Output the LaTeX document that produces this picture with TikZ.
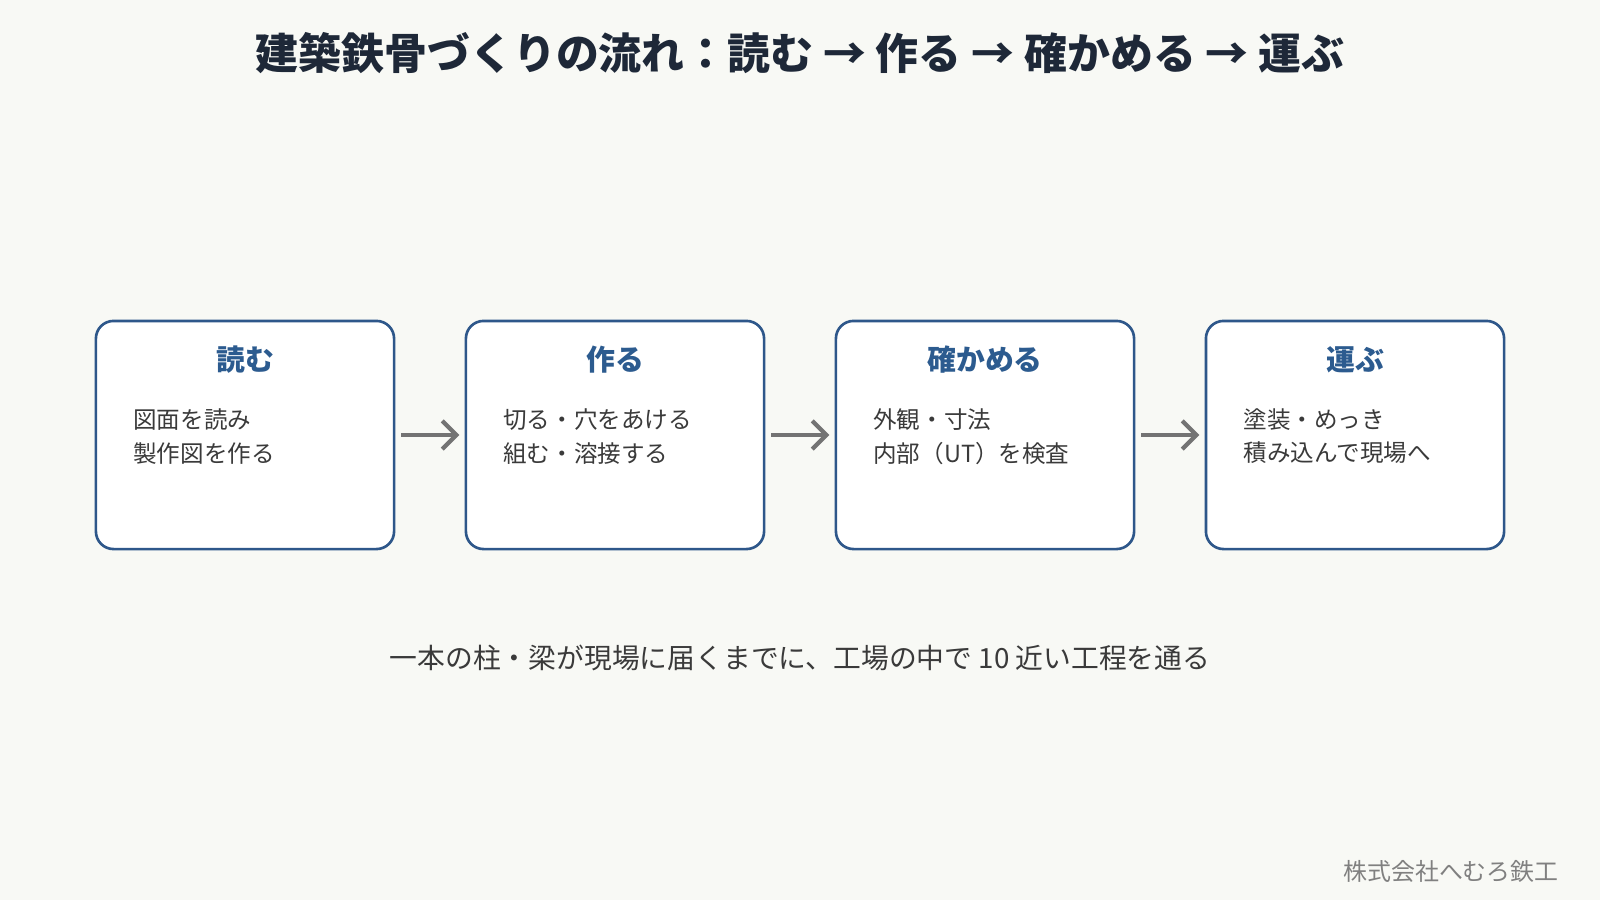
\documentclass[tikz,border=0pt]{standalone}
\usepackage{fontspec}
\setmainfont{Noto Sans CJK JP}
\usetikzlibrary{arrows.meta}
\definecolor{bg}{HTML}{F8F9F5}
\definecolor{bord}{HTML}{2E578A}
\definecolor{head}{HTML}{2C5B8F}
\definecolor{txt}{HTML}{3A3A3A}
\definecolor{ttl}{HTML}{1E2838}
\begin{document}
\begin{tikzpicture}[x=0.01cm,y=-0.01cm,
  box/.style={draw=bord,line width=0.75pt,fill=white,rounded corners=5pt,minimum width=2.98cm,minimum height=2.28cm,inner sep=0pt},
  hd/.style={font=\fontsize{8.2pt}{9pt}\bfseries,text=head},
  bd/.style={font=\fontsize{6.7pt}{9.6pt}\selectfont,text=txt,align=left,anchor=north west},
  arr/.style={draw=gray!90!black,line width=1.2pt,-{Straight Barb[length=4pt,width=8pt]}}]
\fill[bg] (0,0) rectangle (1600,900);
\useasboundingbox (0,0) rectangle (1600,900);
\node[font=\fontsize{12.2pt}{13pt}\bfseries,text=ttl] (title) at (800,53) {建築鉄骨づくりの流れ：読む → 作る → 確かめる → 運ぶ};
\foreach \i/\x/\h/\a/\b in {1/245/読む/図面を読み/製作図を作る,2/615/作る/切る・穴をあける/組む・溶接する,3/985/確かめる/外観・寸法/内部（UT）を検査,4/1355/運ぶ/塗装・めっき/積み込んで現場へ}{
  \node[box] (b\i) at (\x,435) {};
  \node[hd] (h\i) at (\x,360) {\h};
  \node[bd] (t\i) at (\x-124,396) {\a\\\b};
}
\draw[arr] (b1.east)++(6,0) -- ([xshift=-1.5pt]b2.west);
\draw[arr] (b2.east)++(6,0) -- ([xshift=-1.5pt]b3.west);
\draw[arr] (b3.east)++(6,0) -- ([xshift=-1.5pt]b4.west);
\node[font=\fontsize{7.9pt}{8pt}\selectfont,text=txt] (note) at (800,658) {一本の柱・梁が現場に届くまでに、工場の中で 10 近い工程を通る};
\node[font=\fontsize{6.8pt}{7pt}\selectfont,text=gray,anchor=east] (foot) at (1571,871) {株式会社へむろ鉄工};
\end{tikzpicture}
\end{document}
